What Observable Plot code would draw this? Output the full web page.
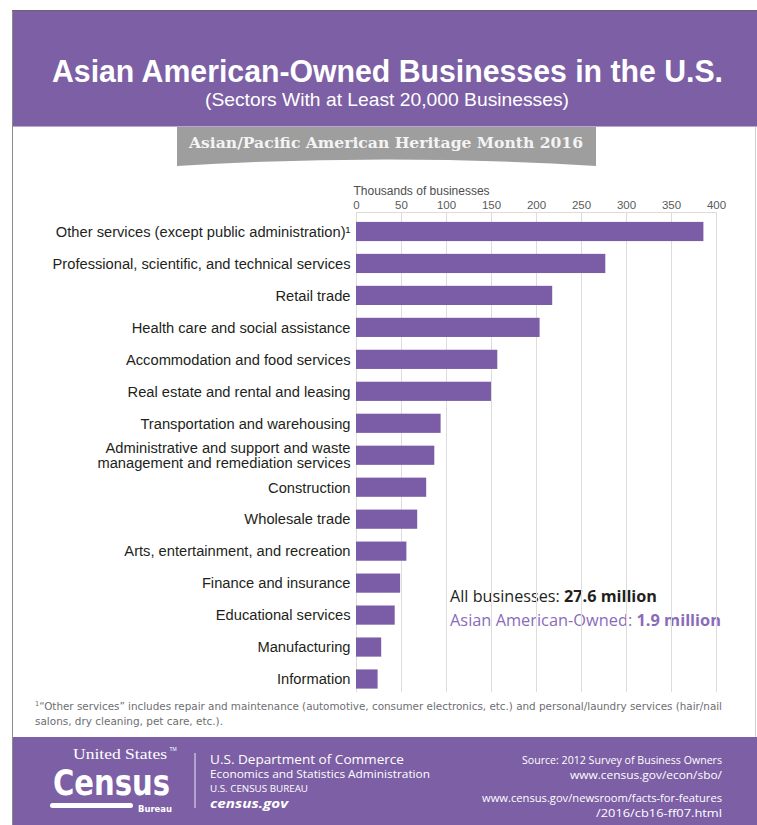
<!DOCTYPE html>
<html>
<head>
<meta charset="utf-8">
<script src="https://cdn.jsdelivr.net/npm/d3@7"></script>
<script src="https://cdn.jsdelivr.net/npm/@observablehq/plot@0.6"></script>
<style>
  html, body { margin: 0; padding: 0; background: #fff; }
  #page { position: relative; width: 757px; height: 825px; overflow: hidden; background: #fff; }
  #deco { position: absolute; left: 0; top: 0; }
  #chart { position: absolute; left: 0; top: 175px; }
  #chart svg { overflow: visible; }
</style>
</head>
<body>
<div id="page">
  <svg id="deco" width="757" height="825" xmlns="http://www.w3.org/2000/svg">
    <!-- card -->
    <rect x="13" y="11" width="744" height="814" fill="#fff"/>
    <line x1="12.5" y1="10.5" x2="12.5" y2="825" stroke="#8a8a8a" stroke-width="1"/>
    <line x1="12" y1="10.5" x2="757" y2="10.5" stroke="#666" stroke-width="1"/>
    <line x1="755.5" y1="127" x2="755.5" y2="737" stroke="#cfcfcf" stroke-width="1"/>
    <!-- header -->
    <rect x="13" y="11" width="744" height="116" fill="#7d5fa5"/>
    <line x1="13" y1="126.5" x2="757" y2="126.5" stroke="#b9a7d0" stroke-width="1"/>
    <text x="387.5" y="82" text-anchor="middle" fill="#fff" font-family="Liberation Sans, Arial, sans-serif" font-weight="bold" font-size="31" textLength="671" lengthAdjust="spacingAndGlyphs">Asian American-Owned Businesses in the U.S.</text>
    <text x="387" y="106" text-anchor="middle" fill="#fff" font-family="Liberation Sans, Arial, sans-serif" font-size="19" textLength="364" lengthAdjust="spacingAndGlyphs">(Sectors With at Least 20,000 Businesses)</text>
    <!-- banner -->
    <path d="M177,127 H596 V166 Q386.5,153 177,166 Z" fill="#9e9e9e"/>
    <text x="386" y="148" text-anchor="middle" fill="#f4f4f4" font-family="DejaVu Serif, Liberation Serif, serif" font-weight="bold" font-size="15.5" textLength="394" lengthAdjust="spacingAndGlyphs">Asian/Pacific American Heritage Month 2016</text>
    <!-- annotation -->
    <text x="450" y="602" fill="#231f20" font-family="Open Sans, sans-serif" font-size="15.5" textLength="207" lengthAdjust="spacingAndGlyphs">All businesses: <tspan font-weight="bold">27.6 million</tspan></text>
    <text x="450" y="625.5" fill="#8a6bba" font-family="Open Sans, sans-serif" font-size="15.5" textLength="271" lengthAdjust="spacingAndGlyphs">Asian American-Owned: <tspan font-weight="bold">1.9 million</tspan></text>
    <!-- footnote -->
    <text x="35" y="709.5" fill="#6d6e71" font-family="Liberation Sans Narrow, DejaVu Sans Condensed, Liberation Sans, sans-serif" font-size="11" textLength="687" lengthAdjust="spacingAndGlyphs"><tspan font-size="7" dy="-4">1</tspan><tspan dy="4">“Other services” includes repair and maintenance (automotive, consumer electronics, etc.) and personal/laundry services (hair/nail</tspan></text>
    <text x="35" y="725" fill="#6d6e71" font-family="Liberation Sans Narrow, DejaVu Sans Condensed, Liberation Sans, sans-serif" font-size="11" textLength="188" lengthAdjust="spacingAndGlyphs">salons, dry cleaning, pet care, etc.).</text>
    <!-- footer -->
    <rect x="13" y="737" width="744" height="88" fill="#7d5fa5"/>
    <text x="73" y="758.5" fill="#fff" font-family="Liberation Serif, DejaVu Serif, serif" font-size="15.5" textLength="94" lengthAdjust="spacingAndGlyphs">United States</text>
    <text x="169.5" y="751" fill="#fff" font-family="Liberation Sans, sans-serif" font-size="5">TM</text>
    <text x="53" y="794.5" fill="#fff" font-family="Liberation Sans Narrow, DejaVu Sans Condensed, Liberation Sans, sans-serif" font-weight="bold" font-size="36" textLength="117" lengthAdjust="spacingAndGlyphs">Census</text>
    <rect x="50" y="803" width="83" height="5" rx="2.5" fill="#fff"/>
    <text x="138" y="811.5" fill="#fff" font-family="Liberation Sans Narrow, DejaVu Sans Condensed, Liberation Sans, sans-serif" font-weight="bold" font-size="9" textLength="34" lengthAdjust="spacingAndGlyphs">Bureau</text>
    <line x1="195" y1="753" x2="195" y2="808" stroke="#fff" stroke-width="1" opacity="0.85"/>
    <text x="210" y="763.5" fill="#fff" font-family="Open Sans, sans-serif" font-size="13.5" textLength="194" lengthAdjust="spacingAndGlyphs">U.S. Department of Commerce</text>
    <text x="210" y="778" fill="#fff" font-family="Open Sans, sans-serif" font-size="11.5" textLength="220" lengthAdjust="spacingAndGlyphs">Economics and Statistics Administration</text>
    <text x="210" y="791.5" fill="#fff" font-family="Open Sans, sans-serif" font-size="8.5" textLength="98" lengthAdjust="spacingAndGlyphs">U.S. CENSUS BUREAU</text>
    <text x="210" y="807.5" fill="#fff" font-family="Open Sans, sans-serif" font-weight="bold" font-style="italic" font-size="12" textLength="78" lengthAdjust="spacingAndGlyphs">census.gov</text>
    <text x="722" y="763.5" text-anchor="end" fill="#fff" font-family="Open Sans, sans-serif" font-size="11.5" textLength="200" lengthAdjust="spacingAndGlyphs">Source: 2012 Survey of Business Owners</text>
    <text x="722" y="778.5" text-anchor="end" fill="#fff" font-family="Open Sans, sans-serif" font-size="11.5" textLength="152" lengthAdjust="spacingAndGlyphs">www.census.gov/econ/sbo/</text>
    <text x="722" y="802" text-anchor="end" fill="#fff" font-family="Open Sans, sans-serif" font-size="11.5" textLength="240" lengthAdjust="spacingAndGlyphs">www.census.gov/newsroom/facts-for-features</text>
    <text x="722" y="817" text-anchor="end" fill="#fff" font-family="Open Sans, sans-serif" font-size="11.5" textLength="126" lengthAdjust="spacingAndGlyphs">/2016/cb16-ff07.html</text>
  </svg>
  <div id="chart"></div>
</div>
<script>
// ---- data ----
const sectors = [
  "Other services (except public administration)¹",
  "Professional, scientific, and technical services",
  "Retail trade",
  "Health care and social assistance",
  "Accommodation and food services",
  "Real estate and rental and leasing",
  "Transportation and warehousing",
  "Administrative and support and waste\nmanagement and remediation services",
  "Construction",
  "Wholesale trade",
  "Arts, entertainment, and recreation",
  "Finance and insurance",
  "Educational services",
  "Manufacturing",
  "Information"
];
const businesses = [386, 277, 218, 204, 157, 150, 94, 87, 78, 68, 56, 49, 43, 28, 24];
const xTicks = [0, 50, 100, 150, 200, 250, 300, 350, 400];
const axisTitle = "Thousands of businesses";

const data = sectors.map((s, i) => ({sector: s, value: businesses[i]}));

const chart = Plot.plot({
  width: 757,
  height: 525,
  marginLeft: 356,
  marginRight: 41,
  marginTop: 37,
  marginBottom: 8,
  style: {fontFamily: "Liberation Sans, Arial, sans-serif", background: "transparent", overflow: "visible"},
  x: {domain: [0, 400], axis: null},
  y: {domain: sectors, range: [40.5, 520], paddingInner: 0.4, paddingOuter: 0.2, round: false, axis: null},
  marks: [
    Plot.gridX(xTicks, {stroke: "#dcdcdc", strokeOpacity: 1, strokeWidth: 1}),
    Plot.frame({anchor: "top", stroke: "#dcdcdc"}),
    Plot.barX(data, {x: "value", y: "sector", fill: "#7b5ca7"}),
    Plot.axisX(xTicks, {anchor: "top", tickSize: 0, tickPadding: 4, fontSize: 11.5, color: "#5a5a5a", label: null}),
    Plot.text([axisTitle], {frameAnchor: "top-left", dx: -3, dy: -26, textAnchor: "start", fontSize: 12, fill: "#4d4d4d"}),
    Plot.text(data, {y: "sector", text: "sector", frameAnchor: "left", textAnchor: "end", dx: -6, fontSize: 14.7, fill: "#231f20", lineHeight: 1.02})
  ]
});
document.getElementById("chart").appendChild(chart);
</script>
</body>
</html>
